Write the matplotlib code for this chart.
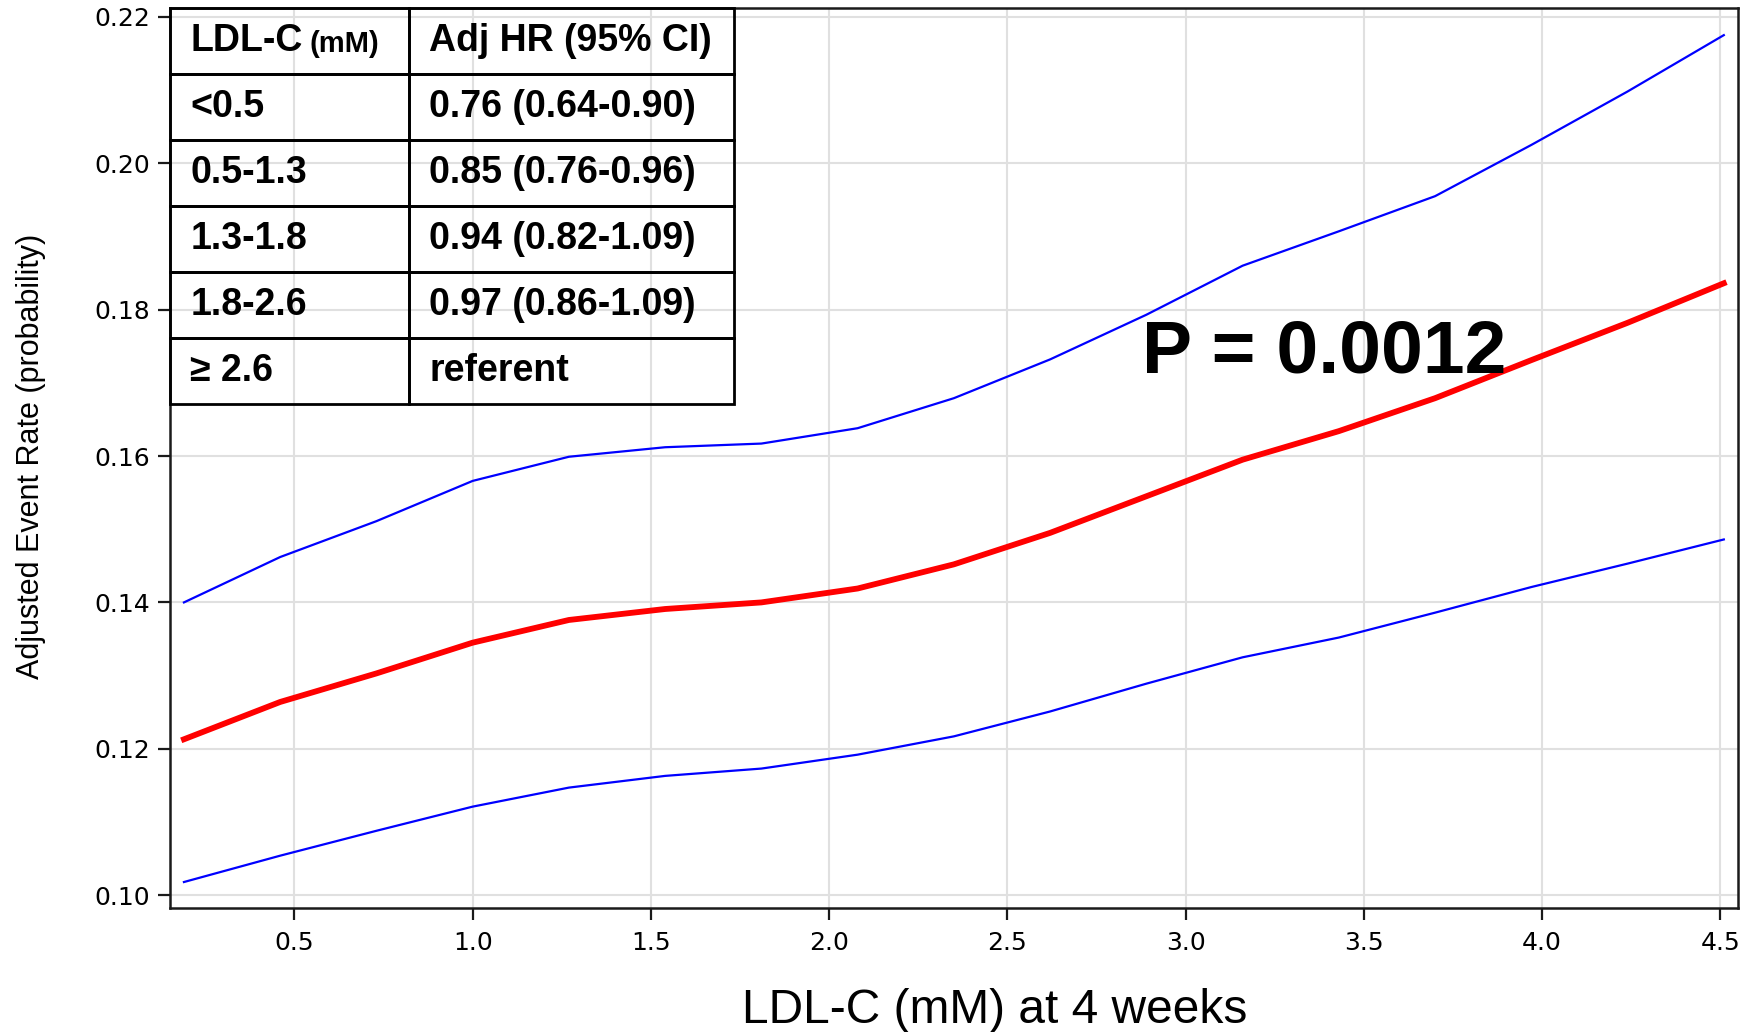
#!/usr/bin/env python3

import matplotlib
matplotlib.use("Agg")
import matplotlib.pyplot as plt
from matplotlib import font_manager

# LDL-C at 4 weeks (mM) and adjusted event rates
ldl = [0.19, 0.46, 0.73, 1.00, 1.27, 1.54, 1.81, 2.08, 2.35, 2.62, 2.89,
       3.16, 3.43, 3.70, 3.97, 4.24, 4.51]
rate = [0.1213, 0.1264, 0.1303, 0.1345, 0.1376, 0.1391, 0.1400, 0.1419, 0.1452,
        0.1495, 0.1545, 0.1595, 0.1634, 0.1679, 0.1731, 0.1782, 0.1836]
upper = [0.1400, 0.1462, 0.1511, 0.1566, 0.1599, 0.1612, 0.1617, 0.1638, 0.1679,
         0.1732, 0.1793, 0.1860, 0.1907, 0.1955, 0.2025, 0.2098, 0.2175]
lower = [0.1018, 0.1054, 0.1088, 0.1121, 0.1147, 0.1163, 0.1173, 0.1192, 0.1217,
         0.1251, 0.1289, 0.1325, 0.1352, 0.1386, 0.1421, 0.1453, 0.1486]

xticks = [0.5, 1.0, 1.5, 2.0, 2.5, 3.0, 3.5, 4.0, 4.5]
yticks = [0.10, 0.12, 0.14, 0.16, 0.18, 0.20, 0.22]

table_header = ["LDL-C", "Adj HR (95% CI)"]
table_groups = ["<0.5", "0.5-1.3", "1.3-1.8", "1.8-2.6", "\u2265 2.6"]
table_hr = ["0.76 (0.64-0.90)", "0.85 (0.76-0.96)", "0.94 (0.82-1.09)",
            "0.97 (0.86-1.09)", "referent"]
p_text = "P = 0.0012"

names = {f.name for f in font_manager.fontManager.ttflist}
narrow = "Liberation Sans Narrow" if "Liberation Sans Narrow" in names else None
if narrow:
    sz = dict(tab=31, mm=24, p=62, xl=39, yl=23)
else:
    narrow = "Liberation Sans"
    sz = dict(tab=27, mm=21, p=54, xl=34.5, yl=22)

fig = plt.figure(figsize=(17.44, 10.32), dpi=100)
ax = fig.add_axes([0.0975, 0.1205, 0.8991, 0.8717])

ax.plot(ldl, upper, '-', color='#0000ff', lw=1.6, zorder=3)
ax.plot(ldl, lower, '-', color='#0000ff', lw=1.6, zorder=3)
ax.plot(ldl, rate, '-', color='#ff0000', lw=4.2, zorder=4)

ax.set_xlim(0.151, 4.55)
ax.set_ylim(0.0983, 0.2212)
ax.set_xticks(xticks)
ax.set_yticks(yticks)
ax.set_xticklabels(["%.1f" % v for v in xticks])
ax.set_yticklabels(["%.2f" % v for v in yticks])
ax.grid(True, color='#e0e0e0', lw=1.5)
ax.set_axisbelow(True)
for s in ax.spines.values():
    s.set_linewidth(1.8)
    s.set_color('#1a1a1a')
ax.tick_params(direction='out', length=8.5, width=1.6, color='#1a1a1a')
ax.tick_params(axis='x', pad=8)
ax.tick_params(axis='y', pad=6)
for lab in ax.get_xticklabels() + ax.get_yticklabels():
    lab.set_fontfamily("DejaVu Sans")
    lab.set_fontsize(18)

ax.set_xlabel("LDL-C (mM) at 4 weeks", fontfamily=narrow, fontsize=sz['xl'])
ax.xaxis.set_label_coords(0.526, -0.089)
ax.set_ylabel("Adjusted Event Rate (probability)", fontfamily=narrow, fontsize=sz['yl'])
ax.yaxis.set_label_coords(-0.079, 0.502)

# inset table
cells = [table_header] + [[g, h] for g, h in zip(table_groups, table_hr)]
tw = 0.3597
tbl = ax.table(cellText=cells, colWidths=[0.424 * tw, 0.576 * tw],
               bbox=[0, 0.560, tw, 0.440], cellLoc='left', zorder=5)
tbl.auto_set_font_size(False)
for (r, c), cell in tbl.get_celld().items():
    cell.set_edgecolor('black')
    cell.set_linewidth(2.0)
    cell.set_facecolor('none')
    cell.PAD = 0.085 if c == 0 else 0.062
    t = cell.get_text()
    t.set_fontfamily(narrow)
    t.set_fontweight('bold')
    t.set_fontsize(sz['tab'])

fig.canvas.draw()
hdr = tbl[0, 0].get_text()
ax.annotate("(mM)", xy=(1, 0), xycoords=hdr, xytext=(5, 1), textcoords='offset points',
            ha='left', va='bottom', fontfamily=narrow, fontweight='bold',
            fontsize=sz['mm'], zorder=6)

ax.text(0.620, 0.5947, p_text, transform=ax.transAxes, fontfamily=narrow,
        fontweight='bold', fontsize=sz['p'], va='baseline', ha='left', zorder=6)

plt.savefig("out.png", dpi=100)
